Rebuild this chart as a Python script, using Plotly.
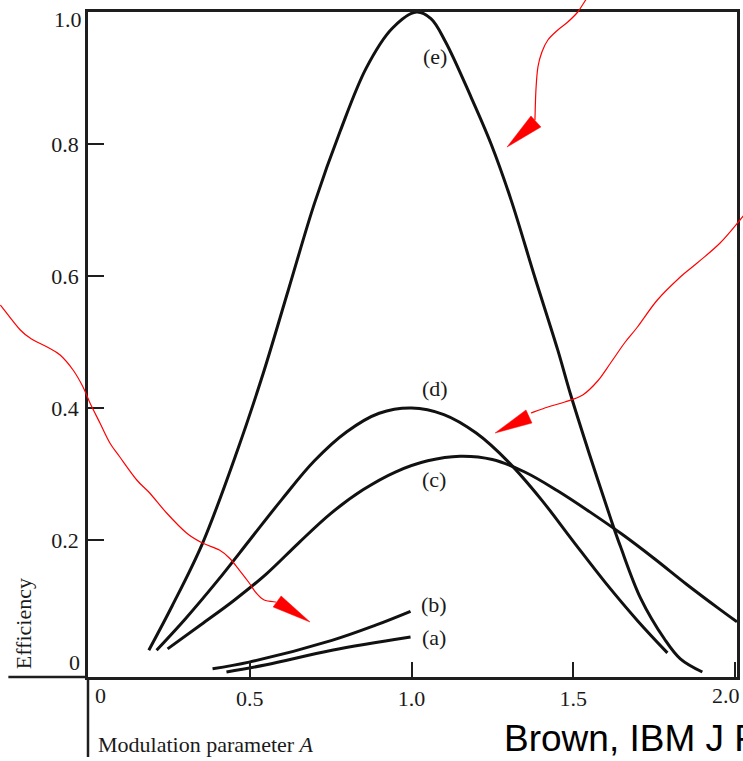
import plotly.graph_objects as go

# ---- efficiency vs. modulation parameter A, curves (a)-(e) ----
a_x = [0.428, 0.551, 0.754, 0.997]
a_y = [0.000, 0.011, 0.033, 0.053]

b_x = [0.385, 0.498, 0.754, 0.889, 0.997]
b_y = [0.005, 0.015, 0.048, 0.071, 0.092]

c_x = [0.246, 0.350, 0.450, 0.550, 0.650, 0.750, 0.850, 0.950, 1.050, 1.150, 1.250,
       1.350, 1.450, 1.550, 1.650, 1.750, 1.850, 1.950, 2.006]
c_y = [0.035, 0.072, 0.108, 0.148, 0.195, 0.240, 0.276, 0.303, 0.320, 0.327, 0.322,
       0.303, 0.275, 0.243, 0.209, 0.172, 0.133, 0.096, 0.076]

d_x = [0.212, 0.300, 0.400, 0.500, 0.600, 0.700, 0.800, 0.900, 1.000, 1.100, 1.200,
       1.300, 1.400, 1.500, 1.600, 1.700, 1.791]
d_y = [0.033, 0.080, 0.138, 0.200, 0.262, 0.320, 0.364, 0.392, 0.400, 0.390, 0.362,
       0.318, 0.262, 0.198, 0.135, 0.077, 0.029]

e_x = [0.188, 0.260, 0.354, 0.462, 0.540, 0.620, 0.700, 0.780, 0.860, 0.940, 1.015,
       1.060, 1.105, 1.185, 1.246, 1.308, 1.380, 1.452, 1.492, 1.550, 1.616, 1.646,
       1.708, 1.782, 1.831, 1.899]
e_y = [0.033, 0.100, 0.195, 0.336, 0.450, 0.580, 0.710, 0.820, 0.915, 0.975, 1.000,
       0.990, 0.955, 0.870, 0.800, 0.715, 0.600, 0.488, 0.420, 0.330, 0.232, 0.190,
       0.112, 0.050, 0.020, 0.000]

curve_labels = ["(a)", "(b)", "(c)", "(d)", "(e)"]
label_x = [1.068, 1.068, 1.068, 1.074, 1.074]
label_y = [0.052, 0.103, 0.291, 0.430, 0.933]

# the end labels ("2.0", "1.0") and the zeros are placed by hand, off the frame corners
x_tick_vals = [0.5, 1.0, 1.5, 2.0]
x_tick_text = ["0.5", "1.0", "1.5", ""]
y_tick_vals = [0.2, 0.4, 0.6, 0.8, 1.0]
y_tick_text = ["0.2", "0.4", "0.6", "0.8", ""]

# ---- page geometry ----
W, H = 743, 761
L, R, T, B = 88, 3, 12, 84
PX_PER_X = 325.0
PX_PER_Y = 660.0
X_MAX = (W - L - R) / PX_PER_X
Y_MIN = -5.0 / PX_PER_Y
SERIF = "Liberation Serif, Times New Roman, serif"
INK = "#1e1e1e"
TXT = "#1a1a1a"
FS = 22


def to_paper(xp, yp):
    """pixel position on the page -> paper coordinates"""
    return (xp - L) / (W - L - R), (H - B - yp) / (H - T - B)


def smooth_path(pts):
    """Catmull-Rom through pixel points, emitted as a cubic Bezier path in paper coords"""
    p = [to_paper(*q) for q in pts]
    d = "M{:.5f},{:.5f}".format(*p[0])
    for i in range(len(p) - 1):
        p0 = p[i - 1] if i > 0 else p[i]
        p1, p2 = p[i], p[i + 1]
        p3 = p[i + 2] if i + 2 < len(p) else p2
        c1 = (p1[0] + (p2[0] - p0[0]) / 6, p1[1] + (p2[1] - p0[1]) / 6)
        c2 = (p2[0] - (p3[0] - p1[0]) / 6, p2[1] - (p3[1] - p1[1]) / 6)
        d += " C{:.5f},{:.5f} {:.5f},{:.5f} {:.5f},{:.5f}".format(*c1, *c2, *p2)
    return d


def triangle(pts):
    p = [to_paper(*q) for q in pts]
    return "M{:.5f},{:.5f} L{:.5f},{:.5f} L{:.5f},{:.5f} Z".format(*p[0], *p[1], *p[2])


def page_text(xp, yp, text, size, family=SERIF, color=TXT, xanchor="center", angle=0):
    x, y = to_paper(xp, yp)
    return dict(x=x, y=y, xref="paper", yref="paper", text=text, showarrow=False,
                xanchor=xanchor, yanchor="middle", textangle=angle,
                font=dict(family=family, size=size, color=color))


fig = go.Figure()
for xs, ys in [(a_x, a_y), (b_x, b_y), (c_x, c_y), (d_x, d_y), (e_x, e_y)]:
    fig.add_trace(go.Scatter(x=xs, y=ys, mode="lines",
                             line=dict(color="#111111", width=3, shape="spline", smoothing=1.0),
                             hoverinfo="skip"))

annotations = []
for t, lx, ly in zip(curve_labels, label_x, label_y):
    annotations.append(dict(x=lx, y=ly, xref="x", yref="y", text=t, showarrow=False,
                            xanchor="center", yanchor="middle",
                            font=dict(family=SERIF, size=FS, color=TXT)))

annotations.append(page_text(101, 695, "0", FS))
annotations.append(page_text(74, 662, "0", FS))
annotations.append(page_text(729, 695, "2.0", FS))
annotations.append(page_text(68, 19, "1.0", FS))

# axis titles
annotations.append(page_text(23, 624, "Efficiency", FS, angle=-90))
annotations.append(page_text(96, 745, "Modulation parameter <i>A</i>", FS, xanchor="left"))

# citation
annotations.append(page_text(504, 738, "Brown, IBM J Res. Dev.", 37,
                             family="Liberation Sans, Arial, sans-serif", color="#000000",
                             xanchor="left"))

shapes = []
# axis lines continuing past the origin
x0p, _ = to_paper(8, 677)
shapes.append(dict(type="line", xref="paper", yref="paper", x0=x0p, y0=0, x1=0, y1=0,
                   line=dict(color=INK, width=2.5)))
_, ybot = to_paper(88, 757)
shapes.append(dict(type="line", xref="paper", yref="paper", x0=0, y0=ybot, x1=0, y1=0,
                   line=dict(color=INK, width=2.5)))

# red hand-drawn pointers
red_lines = [
    [(0, 305), (20, 330), (33, 340), (47, 347), (60, 355), (73, 370), (83, 387), (90, 403),
     (100, 423), (110, 443), (120, 457), (137, 480), (150, 493), (167, 513), (187, 533),
     (203, 543), (220, 550), (230, 558), (240, 570), (250, 583), (257, 593), (265, 600),
     (277, 602)],
    [(594, -8), (588, 0), (580, 12), (570, 22), (560, 30), (550, 40), (544, 52), (540, 67),
     (538, 90), (537, 120)],
    [(750, 211), (743, 220), (723, 243), (700, 263), (683, 277), (660, 300), (640, 327),
     (627, 343), (613, 363), (600, 381), (585, 395), (567, 402), (550, 407), (533, 413)],
]
red_heads = [
    [(282, 596), (274, 607), (311, 622)],
    [(533, 116), (543, 127), (509, 147)],
    [(528, 410), (534, 423), (497, 433)],
]
for pts in red_lines:
    shapes.append(dict(type="path", xref="paper", yref="paper", path=smooth_path(pts),
                       line=dict(color="#ff0000", width=1.2), layer="above"))
for pts in red_heads:
    shapes.append(dict(type="path", xref="paper", yref="paper", path=triangle(pts),
                       line=dict(color="#ff0000", width=0.5), fillcolor="#ff0000",
                       layer="above"))

fig.update_layout(
    width=W, height=H,
    margin=dict(l=L, r=R, t=T, b=B, pad=0),
    paper_bgcolor="white", plot_bgcolor="white",
    showlegend=False,
    annotations=annotations,
    shapes=shapes,
    xaxis=dict(range=[0, X_MAX], showgrid=False, zeroline=False,
               showline=True, mirror=True, linecolor=INK, linewidth=2.5,
               ticks="inside", ticklen=15, tickwidth=2, tickcolor=INK,
               tickvals=x_tick_vals, ticktext=x_tick_text,
               tickfont=dict(family=SERIF, size=FS, color=TXT),
               ticklabelstandoff=0),
    yaxis=dict(range=[Y_MIN, 1.0], showgrid=False, zeroline=False,
               showline=True, mirror=True, linecolor=INK, linewidth=2.5,
               ticks="inside", ticklen=16, tickwidth=2, tickcolor=INK,
               tickvals=y_tick_vals, ticktext=y_tick_text,
               tickfont=dict(family=SERIF, size=FS, color=TXT),
               ticklabelstandoff=2),
)

fig.write_html("out.html")
